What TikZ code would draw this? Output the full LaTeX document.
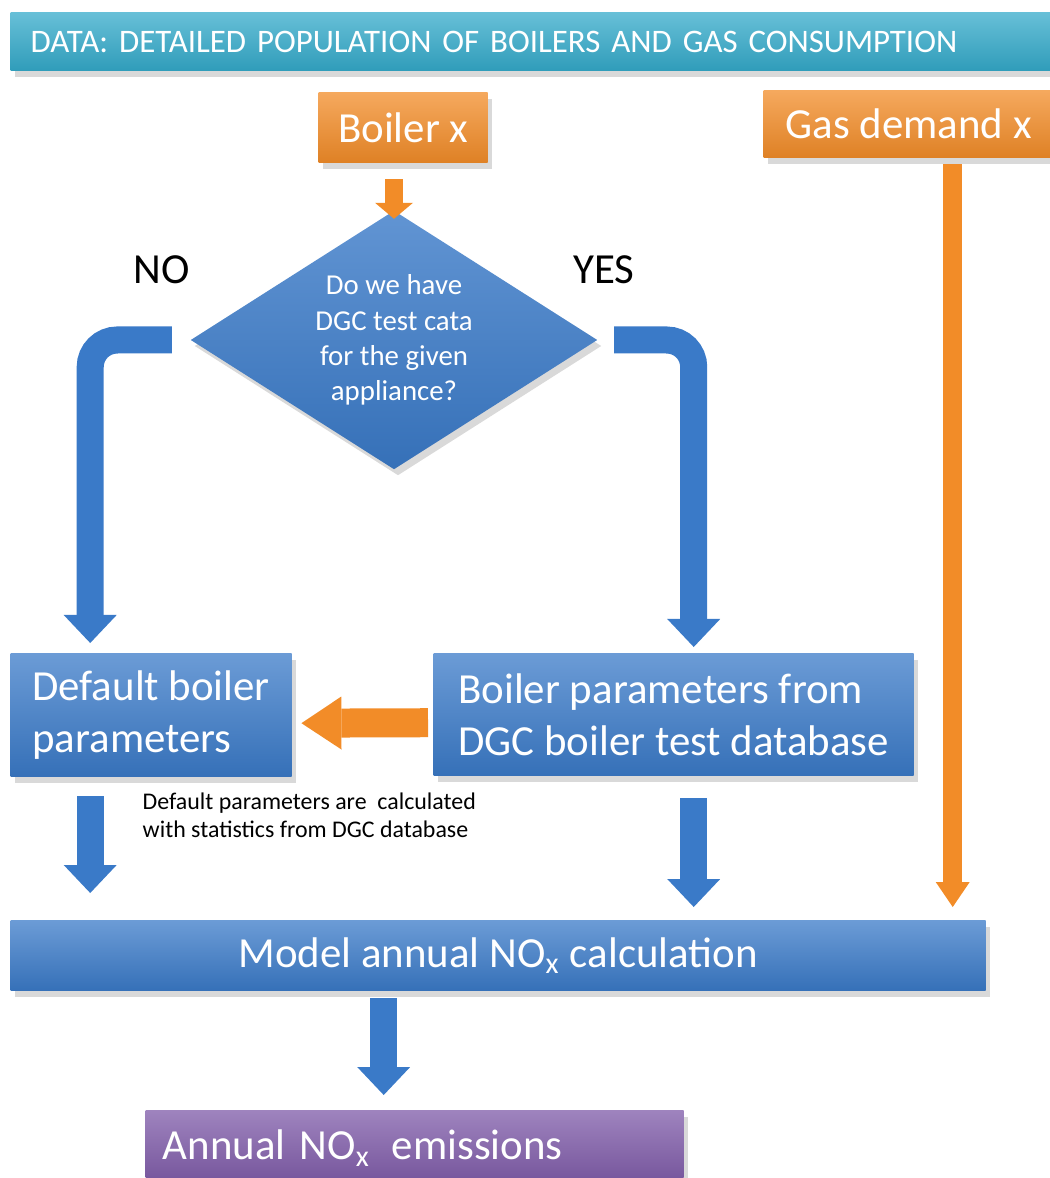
\documentclass[tikz,border=0pt]{standalone}
\usepackage{fontspec}
\setmainfont{Carlito}
\usetikzlibrary{shapes.geometric}
\usetikzlibrary{positioning}
\usetikzlibrary{arrows.meta}
\usetikzlibrary{shadows}

\definecolor{boxblue}{RGB}{58,122,200}
\definecolor{boxorange}{RGB}{242,140,40}
\definecolor{boxcyan}{RGB}{52,170,202}
\definecolor{boxpurple}{RGB}{126,90,168}

\begin{document}
\begin{tikzpicture} [x=0.1mm, y=-0.1mm,
          box/.style = {rectangle, anchor=north west, inner sep=0pt, text=white, align=left,
            drop shadow={shadow xshift=0.4mm, shadow yshift=-0.6mm, opacity=.3}},
          bluebox/.style = {box, top color=boxblue!75!white, middle color=boxblue, bottom color=boxblue!92!black},
          orangebox/.style = {box, top color=boxorange!75!white, middle color=boxorange, bottom color=boxorange!92!black},
          bigtext/.style = {font=\fontsize{12.2}{14.8}\selectfont},
          bluearrow/.style = {draw=boxblue, line width=2.7mm, rounded corners=2.7mm,
            -{Triangle[width=5.3mm, length=2.8mm, line width=0pt]}},
          orangearrow/.style = {draw=boxorange, line width=2.9mm,
            -{Triangle[width=5.3mm, length=4mm, line width=0pt]}},
          thinorange/.style = {draw=boxorange, line width=1.9mm,
            -{Triangle[width=3.4mm, length=2.5mm, line width=0pt]}}
          ]
          \useasboundingbox (0,0) rectangle (1049,1178);

          % boxes
          \node[box, top color=boxcyan!75!white, middle color=boxcyan, bottom color=boxcyan!92!black,
            minimum height=5.8mm, inner xsep=2mm, text width=100.5mm, font=\fontsize{9.35}{11}\selectfont]
            (banner) at (10,12) {DATA: DETAILED POPULATION OF BOILERS AND GAS CONSUMPTION};
          \node[orangebox, bigtext, minimum width=16.9mm, minimum height=7mm] (boiler) at (318,92) {Boiler x};
          \node[orangebox, bigtext, minimum width=29mm, minimum height=6.7mm] (gas) at (763,90) {Gas demand x};
          \node[diamond, aspect=1.6, top color=boxblue!80!white, middle color=boxblue, bottom color=boxblue!92!black,
            text=white, minimum width=40.7mm, minimum height=25.9mm, inner sep=0pt, align=center,
            font=\fontsize{8.2}{10}\selectfont,
            drop shadow={shadow xshift=0.4mm, shadow yshift=-0.6mm, opacity=.3}]
            (dgc) at (394,340) {Do we have\\DGC test cata\\for the given\\appliance?};
          \node[bluebox, bigtext, minimum width=28.1mm, minimum height=12.3mm]
            (default) at (10,653) {Default boiler\\parameters};
          \node[bluebox, bigtext, minimum width=48mm, minimum height=12.2mm]
            (params) at (433,653) {Boiler parameters from\\DGC boiler test database};
          \node[bluebox, bigtext, minimum width=97.5mm, minimum height=7mm] (model) at (10,920)
            {Model annual NO\textsubscript{x} calculation};
          \node[box, bigtext, top color=boxpurple!75!white, middle color=boxpurple, bottom color=boxpurple!92!black,
            minimum height=7.5mm, inner xsep=1.7mm, text width=50.4mm] (annual) at (145,1110)
            {Annual NO\textsubscript{x}\kern2pt{} emissions};

          % labels
          \node[bigtext] (no) at (162,270) {NO};
          \node[bigtext] (yes) at (604,270) {YES};
          \node[anchor=north west, align=left, inner sep=0pt, font=\fontsize{6.8}{8}\selectfont]
            (note) at (142,792) {Default parameters are \ calculated\\with statistics from DGC database};

          % arrows
          \draw[draw=boxorange, line width=1.8mm, -{Triangle[width=3.8mm, length=1.6mm, line width=0pt]},
            shorten <=1.6mm] (boiler.south -| dgc.north) -- ([yshift=-0.9mm]dgc.north);
          \draw[bluearrow, shorten <=1.8mm, shorten >=1mm] (dgc.west) -| ([xshift=-6.1mm]default.north);
          \draw[bluearrow, shorten <=1.6mm, shorten >=0.6mm] (dgc.east) -| ([xshift=2mm]params.north);
          \draw[orangearrow, shorten <=0.5mm, shorten >=0.9mm] ([yshift=-0.8mm]params.west) -- ([yshift=-0.8mm]default.east);
          \draw[bluearrow, shorten <=1.9mm, shorten >=2.7mm]
            ([xshift=-6.1mm]default.south) -- ([xshift=-6.1mm]default.south |- model.north);
          \draw[bluearrow, shorten <=2.2mm, shorten >=1.3mm]
            ([xshift=2mm]params.south) -- ([xshift=2mm]params.south |- model.north);
          \draw[thinorange, shorten <=0.6mm, shorten >=1.3mm]
            ([xshift=4.4mm]gas.south) -- ([xshift=4.4mm]gas.south |- model.north);
          \draw[bluearrow, shorten <=0.7mm, shorten >=1.5mm]
            ([xshift=-3.1mm]annual.north |- model.south) -- ([xshift=-3.1mm]annual.north);
        \end{tikzpicture}
\end{document}
